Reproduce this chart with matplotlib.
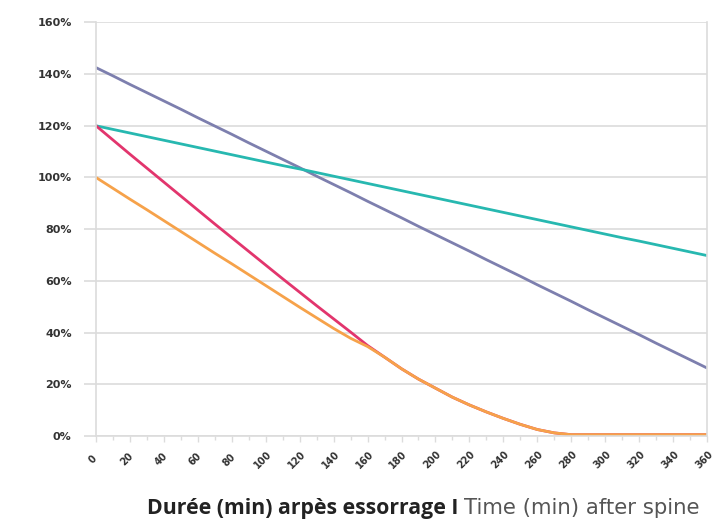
import numpy as np
import matplotlib.pyplot as plt
import matplotlib.transforms as mtransforms
from matplotlib.ticker import FuncFormatter

# temps (min) toutes les 10 minutes
minutes = list(range(0, 361, 10))

# valeurs (%)
purple = [142.5, 139.3, 136.0, 132.8, 129.6, 126.4, 123.1, 119.9, 116.7, 113.4,
          110.2, 107.0, 103.8, 100.5, 97.3, 94.1, 90.8, 87.6, 84.4, 81.1,
          77.9, 74.7, 71.5, 68.2, 65.0, 61.8, 58.5, 55.3, 52.1, 48.8,
          45.6, 42.4, 39.2, 35.9, 32.7, 29.5, 26.3]
teal = [120.0, 118.6, 117.2, 115.8, 114.4, 113.0, 111.6, 110.2, 108.8, 107.4,
        106.0, 104.6, 103.3, 101.9, 100.5, 99.1, 97.7, 96.3, 94.9, 93.5,
        92.1, 90.7, 89.3, 87.9, 86.5, 85.1, 83.7, 82.3, 80.9, 79.5,
        78.1, 76.7, 75.4, 74.0, 72.6, 71.2, 69.8]
pink = [120.0, 114.5, 109.0, 103.6, 98.2, 92.8, 87.4, 82.0, 76.7, 71.4,
        66.1, 60.8, 55.6, 50.4, 45.3, 40.2, 35.0, 30.5, 26.0, 22.0,
        18.5, 15.0, 12.0, 9.3, 6.8, 4.5, 2.5, 1.2, 0.5, 0.5,
        0.5, 0.5, 0.5, 0.5, 0.5, 0.5, 0.5]
orange = [100.0, 95.8, 91.6, 87.5, 83.3, 79.1, 74.9, 70.7, 66.6, 62.4,
          58.2, 54.0, 49.8, 45.7, 41.6, 37.8, 34.6, 30.5, 26.0, 22.0,
          18.5, 15.0, 12.0, 9.3, 6.8, 4.5, 2.5, 1.2, 0.5, 0.5,
          0.5, 0.5, 0.5, 0.5, 0.5, 0.5, 0.5]

y_ticks = list(range(0, 161, 20))
x_labels = list(range(0, 361, 20))

fig = plt.figure(figsize=(7.15, 5.22), dpi=100)
ax = fig.add_axes([0.1343, 0.1648, 0.8545, 0.7923])

grid_col = '#dcdcdc'
ax.plot(minutes, purple, color='#7d7fae', lw=2.0, solid_capstyle='round')
ax.plot(minutes, teal, color='#27b8b0', lw=2.0, solid_capstyle='round')
ax.plot(minutes, pink, color='#e2356d', lw=2.0, solid_capstyle='round')
ax.plot(minutes, orange, color='#f6a24a', lw=2.0, solid_capstyle='round')

ax.set_xlim(0, 360)
ax.set_ylim(0, 160)
ax.set_yticks(y_ticks)
ax.yaxis.set_major_formatter(FuncFormatter(lambda v, _: f'{v:.0f}%'))
ax.set_xticks(x_labels)
ax.set_xticks(minutes, minor=True)
ax.grid(axis='y', color=grid_col, lw=1.2)
ax.set_axisbelow(True)

for side in ['left', 'right']:
    ax.spines[side].set_color(grid_col)
    ax.spines[side].set_linewidth(1.2)
ax.spines['top'].set_visible(False)
ax.spines['bottom'].set_color(grid_col)
ax.spines['bottom'].set_linewidth(1.2)

ax.tick_params(axis='y', length=9, color=grid_col, width=1.2, pad=8.5,
               labelsize=8, labelcolor='#333333')
ax.tick_params(axis='x', which='major', length=4, color=grid_col, width=1.0,
               pad=13, labelsize=7, labelcolor='#333333', labelrotation=45)
ax.tick_params(axis='x', which='minor', length=3, color=grid_col, width=1.0)
for lab in ax.get_xticklabels() + ax.get_yticklabels():
    lab.set_fontweight('bold')
# léger décalage à gauche des étiquettes x
shift = mtransforms.ScaledTranslation(-3 / 100, 0, fig.dpi_scale_trans)
for lab in ax.get_xticklabels():
    lab.set_ha('center')
    lab.set_va('center')
    lab.set_transform(lab.get_transform() + shift)

# titre de l'axe x en deux parties
t1 = fig.text(147 / 715, 0.016, 'Durée (min) arpès essorrage I ', fontsize=15.3,
              fontweight='bold', color='#222222', family='Open Sans')
fig.canvas.draw()
bb = t1.get_window_extent()
fig.text(bb.x1 / fig.bbox.width, 0.016, 'Time (min) after spine', fontsize=15.3,
         color='#555555', family='DejaVu Sans')

fig.savefig('out.png', dpi=100)
